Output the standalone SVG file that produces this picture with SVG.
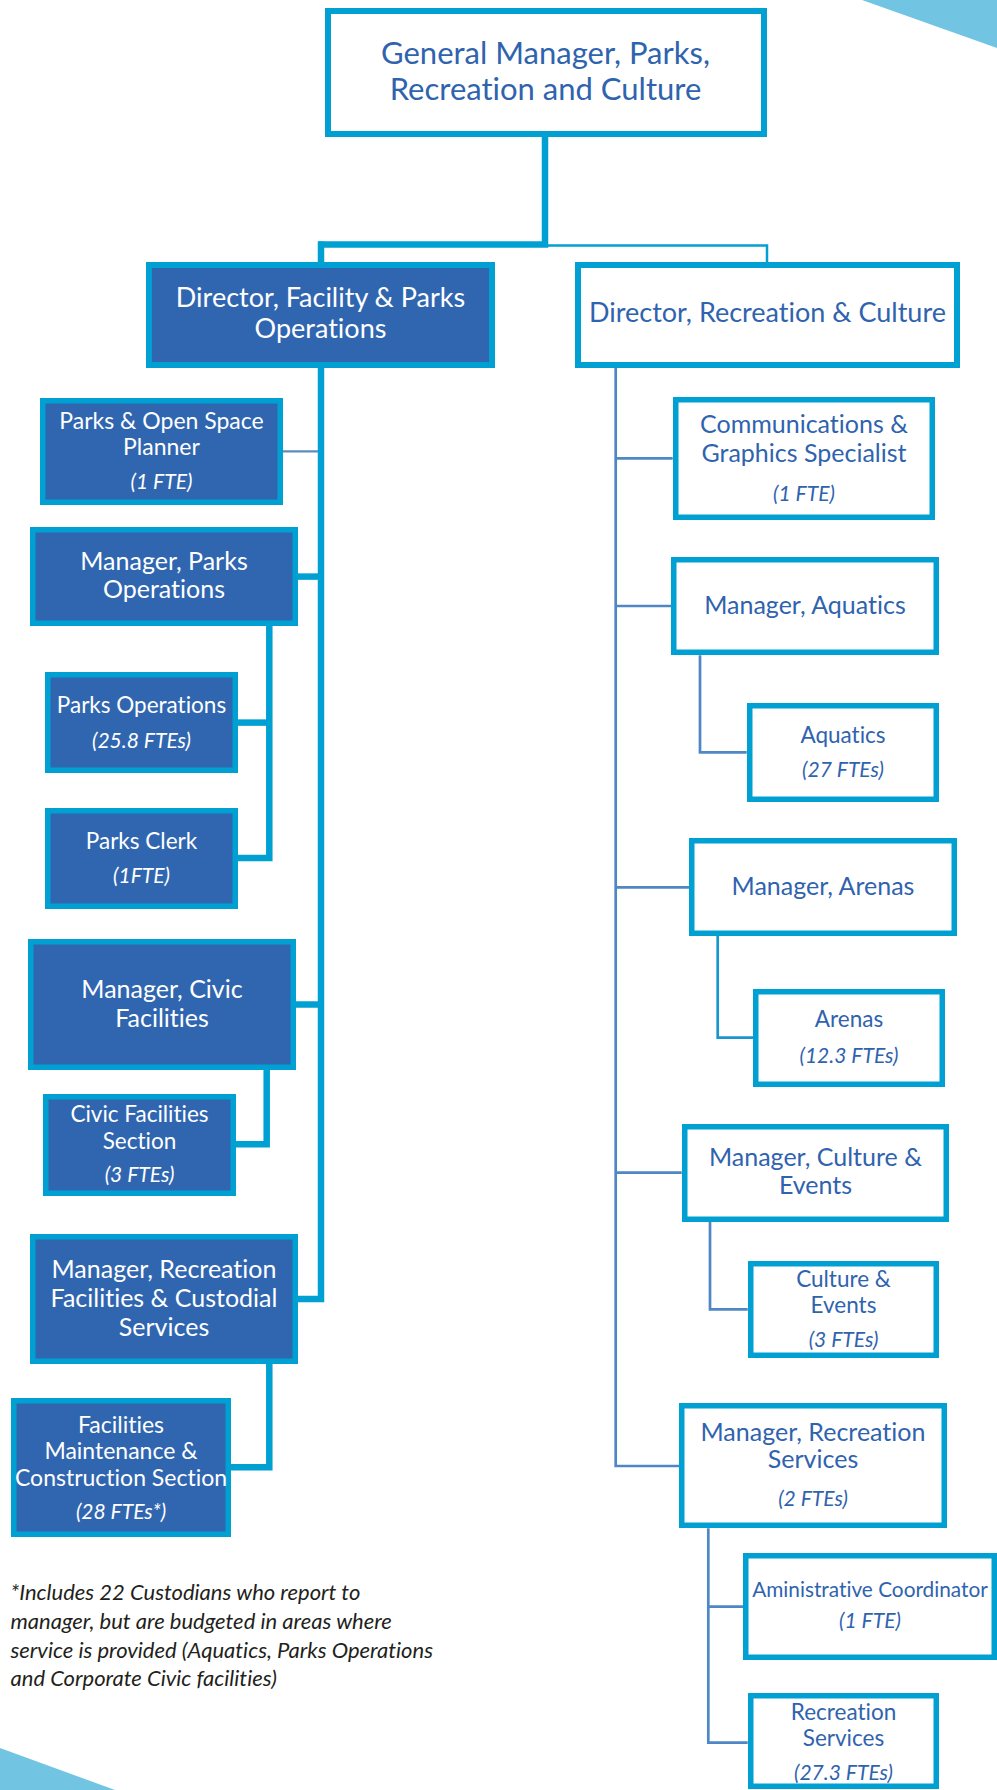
<svg xmlns="http://www.w3.org/2000/svg" width="997" height="1790" viewBox="0 0 997 1790">
<style>
.bd{fill:#3066b0;stroke:#00a0d3;stroke-width:5.5}
.bw{fill:#fff;stroke:#00a0d3;stroke-width:5.5}
.b6{stroke-width:6}
.t{font-family:Lato,"Open Sans","Liberation Sans",sans-serif;text-anchor:middle;font-variant-ligatures:none;font-feature-settings:"liga" 0,"clig" 0}
.w{fill:#fff}
.u{fill:#2f63ae}
.i{font-style:italic}
.thick{fill:none;stroke:#00a0d3;stroke-width:6.5;stroke-linejoin:miter;stroke-linecap:butt}
.thin{fill:none;stroke:#4f86c4;stroke-width:2.7;stroke-linejoin:miter}
.thinc{fill:none;stroke:#00a0d3;stroke-width:2.5}
.deco{fill:#71c5e3}
.note{font-family:Lato,"Open Sans","Liberation Sans",sans-serif;font-style:italic;font-size:22px;fill:#231f20;font-variant-ligatures:none;font-feature-settings:"liga" 0,"clig" 0}
</style>
<rect width="997" height="1790" fill="#fff"/>
<polygon class="deco" points="862,0 997,0 997,48"/>
<polygon class="deco" points="0,1748 115,1790 0,1790"/>

<g id="connectors">
<path class="thick" d="M545,137 V244.5 H318"/>
<path class="thick" d="M321,241.5 V262"/>
<path class="thinc" d="M548,245.5 H767 V262"/>
<path class="thick" d="M321,368 V1299 H298"/>
<path class="thin" style="stroke:#5a8cc2;stroke-width:2.2" d="M283,451.3 H318"/>
<path class="thick" d="M298,576.6 H321"/>
<path class="thick" d="M269.3,626 V858 H238"/>
<path class="thick" d="M238,722.6 H269.3"/>
<path class="thick" d="M296,1004.5 H321"/>
<path class="thick" d="M266.7,1069.5 V1144.3 H235.7"/>
<path class="thick" d="M269.3,1364 V1467.3 H231"/>
<path class="thin" d="M615.7,368 V1466 H679.3"/>
<path class="thin" d="M615.7,458.3 H672.7"/>
<path class="thin" d="M615.7,606 H671"/>
<path class="thin" d="M615.7,887.3 H689.3"/>
<path class="thin" d="M615.7,1172.7 H681.7"/>
<path class="thin" d="M700,655.3 V752.3 H746.7"/>
<path class="thin" style="stroke:#1a96cf" d="M717.7,936 V1037.7 H753.3"/>
<path class="thin" d="M710,1221.7 V1309.3 H747.7"/>
<path class="thin" d="M708.3,1528.3 V1742.7 H747.7"/>
<path class="thin" d="M708.3,1606.7 H743.3"/>
</g>

<g id="gm">
<rect class="bw b6" x="328" y="11" width="436" height="123"/>
<text class="t u" font-size="31" x="545.5" y="64">General Manager, Parks,</text>
<text class="t u" font-size="31" x="545.5" y="100">Recreation and Culture</text>
</g>

<g id="dir-facility">
<rect class="bd b6" x="149" y="265" width="343" height="100"/>
<text class="t w" font-size="27" x="320.5" y="307">Director, Facility &amp; Parks</text>
<text class="t w" font-size="27" x="320.5" y="338">Operations</text>
</g>

<g id="dir-recreation">
<rect class="bw b6" x="578" y="265" width="379" height="100"/>
<text class="t u" font-size="27" x="767.5" y="322">Director, Recreation &amp; Culture</text>
</g>

<g id="parks-planner">
<rect class="bd" x="42.75" y="400.75" width="237.5" height="101.5"/>
<text class="t w" font-size="23" x="161.5" y="429">Parks &amp; Open Space</text>
<text class="t w" font-size="23" x="161.5" y="455">Planner</text>
<text class="t w i" font-size="21" x="161.5" y="489">(1 FTE)</text>
</g>

<g id="mgr-parks">
<rect class="bd" x="32.75" y="529.75" width="262.5" height="93.5"/>
<text class="t w" font-size="25" x="164" y="570">Manager, Parks</text>
<text class="t w" font-size="25" x="164" y="598">Operations</text>
</g>

<g id="parks-ops">
<rect class="bd" x="47.75" y="674.75" width="187.5" height="95.5"/>
<text class="t w" font-size="22.5" x="141.5" y="713">Parks Operations</text>
<text class="t w i" font-size="21" x="141.5" y="748">(25.8 FTEs)</text>
</g>

<g id="parks-clerk">
<rect class="bd" x="47.75" y="810.75" width="187.5" height="95.5"/>
<text class="t w" font-size="22.5" x="141.5" y="849">Parks Clerk</text>
<text class="t w i" font-size="21" x="141.5" y="883">(1FTE)</text>
</g>

<g id="mgr-civic">
<rect class="bd" x="30.75" y="941.75" width="262.5" height="125.5"/>
<text class="t w" font-size="25" x="162" y="998">Manager, Civic</text>
<text class="t w" font-size="25" x="162" y="1027">Facilities</text>
</g>

<g id="civic-section">
<rect class="bd" x="45.75" y="1096.75" width="187.5" height="96.5"/>
<text class="t w" font-size="22.5" x="139.5" y="1122">Civic Facilities</text>
<text class="t w" font-size="22.5" x="139.5" y="1148.5">Section</text>
<text class="t w i" font-size="21" x="139.5" y="1182">(3 FTEs)</text>
</g>

<g id="mgr-rec-facilities">
<rect class="bd" x="32.75" y="1236.75" width="262.5" height="124.5"/>
<text class="t w" font-size="25" x="164" y="1278">Manager, Recreation</text>
<text class="t w" font-size="25" x="164" y="1307">Facilities &amp; Custodial</text>
<text class="t w" font-size="25" x="164" y="1336">Services</text>
</g>

<g id="facilities-maintenance">
<rect class="bd" x="13.75" y="1400.75" width="214.5" height="133.5"/>
<text class="t w" font-size="23" x="121" y="1433">Facilities</text>
<text class="t w" font-size="23" x="121" y="1458.5">Maintenance &amp;</text>
<text class="t w" font-size="23" x="121" y="1485.5">Construction Section</text>
<text class="t w i" font-size="21" x="121" y="1519">(28 FTEs*)</text>
</g>

<g id="comms">
<rect class="bw" x="675.75" y="399.75" width="256.5" height="117.5"/>
<text class="t u" font-size="25" x="804" y="433">Communications &amp;</text>
<text class="t u" font-size="25" x="804" y="462">Graphics Specialist</text>
<text class="t u i" font-size="21" x="804" y="501">(1 FTE)</text>
</g>

<g id="mgr-aquatics">
<rect class="bw" x="673.75" y="559.75" width="262.5" height="92.5"/>
<text class="t u" font-size="25" x="805" y="614">Manager, Aquatics</text>
</g>

<g id="aquatics">
<rect class="bw" x="749.75" y="705.75" width="186.5" height="93.5"/>
<text class="t u" font-size="22.5" x="843" y="743">Aquatics</text>
<text class="t u i" font-size="21" x="843" y="777">(27 FTEs)</text>
</g>

<g id="mgr-arenas">
<rect class="bw" x="691.75" y="840.75" width="262.5" height="92.5"/>
<text class="t u" font-size="25" x="823" y="895">Manager, Arenas</text>
</g>

<g id="arenas">
<rect class="bw" x="755.75" y="991.75" width="186.5" height="92.5"/>
<text class="t u" font-size="22.5" x="849" y="1027">Arenas</text>
<text class="t u i" font-size="21" x="849" y="1063">(12.3 FTEs)</text>
</g>

<g id="mgr-culture">
<rect class="bw" x="684.75" y="1126.75" width="261.5" height="92.5"/>
<text class="t u" font-size="25" x="815.5" y="1166">Manager, Culture &amp;</text>
<text class="t u" font-size="25" x="815.5" y="1194">Events</text>
</g>

<g id="culture-events">
<rect class="bw" x="750.75" y="1263.75" width="185.5" height="91.5"/>
<text class="t u" font-size="22.5" x="843.5" y="1287">Culture &amp;</text>
<text class="t u" font-size="22.5" x="843.5" y="1313">Events</text>
<text class="t u i" font-size="21" x="843.5" y="1347">(3 FTEs)</text>
</g>

<g id="mgr-rec-services">
<rect class="bw" x="681.75" y="1405.75" width="262.5" height="119.5"/>
<text class="t u" font-size="25" x="813" y="1441">Manager, Recreation</text>
<text class="t u" font-size="25" x="813" y="1468">Services</text>
<text class="t u i" font-size="21" x="813" y="1506">(2 FTEs)</text>
</g>

<g id="admin-coordinator">
<rect class="bw" x="745.75" y="1555.75" width="248.5" height="101.5"/>
<text class="t u" font-size="20.8" x="870" y="1597">Aministrative Coordinator</text>
<text class="t u i" font-size="21" x="870" y="1628">(1 FTE)</text>
</g>

<g id="rec-services">
<rect class="bw" x="750.75" y="1695.75" width="185.5" height="90.5"/>
<text class="t u" font-size="22.5" x="843.5" y="1720">Recreation</text>
<text class="t u" font-size="22.5" x="843.5" y="1746">Services</text>
<text class="t u i" font-size="21" x="843.5" y="1780">(27.3 FTEs)</text>
</g>

<g id="footnote">
<text class="note" x="10.5" y="1600">*Includes 22 Custodians who report to</text>
<text class="note" x="10.5" y="1628.5">manager, but are budgeted in areas where</text>
<text class="note" x="10.5" y="1657.5">service is provided (Aquatics, Parks Operations</text>
<text class="note" x="10.5" y="1686">and Corporate Civic facilities)</text>
</g>
</svg>
